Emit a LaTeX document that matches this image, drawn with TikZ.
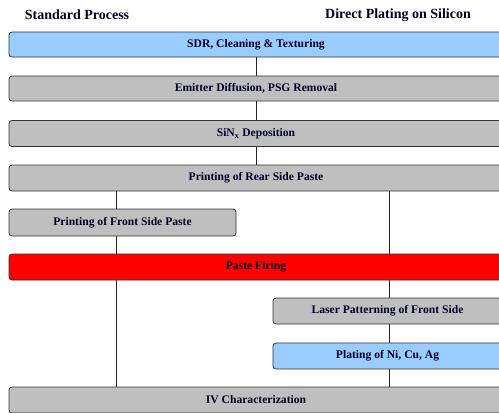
\documentclass[tikz,border=0pt]{standalone}
\usepackage{fontspec}
\setmainfont{Liberation Serif}
\begin{document}
\begin{tikzpicture}[x=1pt,y=-1pt,
  stepbox/.style={draw=black!80,line width=0.8pt,rounded corners=3pt,font=\bfseries\fontsize{11.6}{13}\selectfont,inner sep=0pt,text=black!85!blue},
  graybox/.style={stepbox,fill=black!25},
  bluebox/.style={stepbox,fill={rgb,255:red,153;green,204;blue,255}},
  redbox/.style={stepbox,fill=red},
  conn/.style={draw=black!85,line width=0.8pt},
  head/.style={font=\bfseries\fontsize{14}{16}\selectfont,inner sep=0pt,text=black!85!blue}]
\useasboundingbox (0,0) rectangle (499,413);
\clip (0,0) rectangle (499,413);
\coordinate (L) at (116,0);
\coordinate (R) at (389,0);
\node[head] (h1) at (77,15) {Standard Process};
\node[head] (h2) at (398,15) {Direct Plating on Silicon};
\node[bluebox,minimum width=494,minimum height=25] (b1) at (256,44.5) {SDR, Cleaning \& Texturing};
\node[graybox,minimum width=494,minimum height=25] (b2) at (256,88.5) {Emitter Diffusion, PSG Removal};
\node[graybox,minimum width=494,minimum height=26] (b3) at (256,133.5) {SiN\textsubscript{x} Deposition};
\node[graybox,minimum width=494,minimum height=26] (b4) at (256,178) {Printing of Rear Side Paste};
\node[graybox,minimum width=227,minimum height=27] (b5) at (122.5,222.5) {Printing of Front Side Paste};
\node[redbox,minimum width=494,minimum height=26] (b6) at (256,267) {Paste Firing};
\node[graybox,minimum width=229,minimum height=26] (b7) at (387.5,311) {Laser Patterning of Front Side};
\node[bluebox,minimum width=229,minimum height=26] (b8) at (387.5,356) {Plating of Ni, Cu, Ag};
\node[graybox,minimum width=494,minimum height=26] (b9) at (256,400) {IV Characterization};
\draw[conn] (b1.south) -- (b2.north);
\draw[conn] (b2.south) -- (b3.north);
\draw[conn] (b3.south) -- (b4.north);
\draw[conn] (L |- b4.south) -- (L |- b5.north);
\draw[conn] (L |- b5.south) -- (L |- b6.north);
\draw[conn] (L |- b6.south) -- (L |- b9.north);
\draw[conn] (R |- b4.south) -- (R |- b6.north);
\draw[conn] (R |- b6.south) -- (R |- b7.north);
\draw[conn] (R |- b7.south) -- (R |- b8.north);
\draw[conn] (R |- b8.south) -- (R |- b9.north);
\end{tikzpicture}
\end{document}
